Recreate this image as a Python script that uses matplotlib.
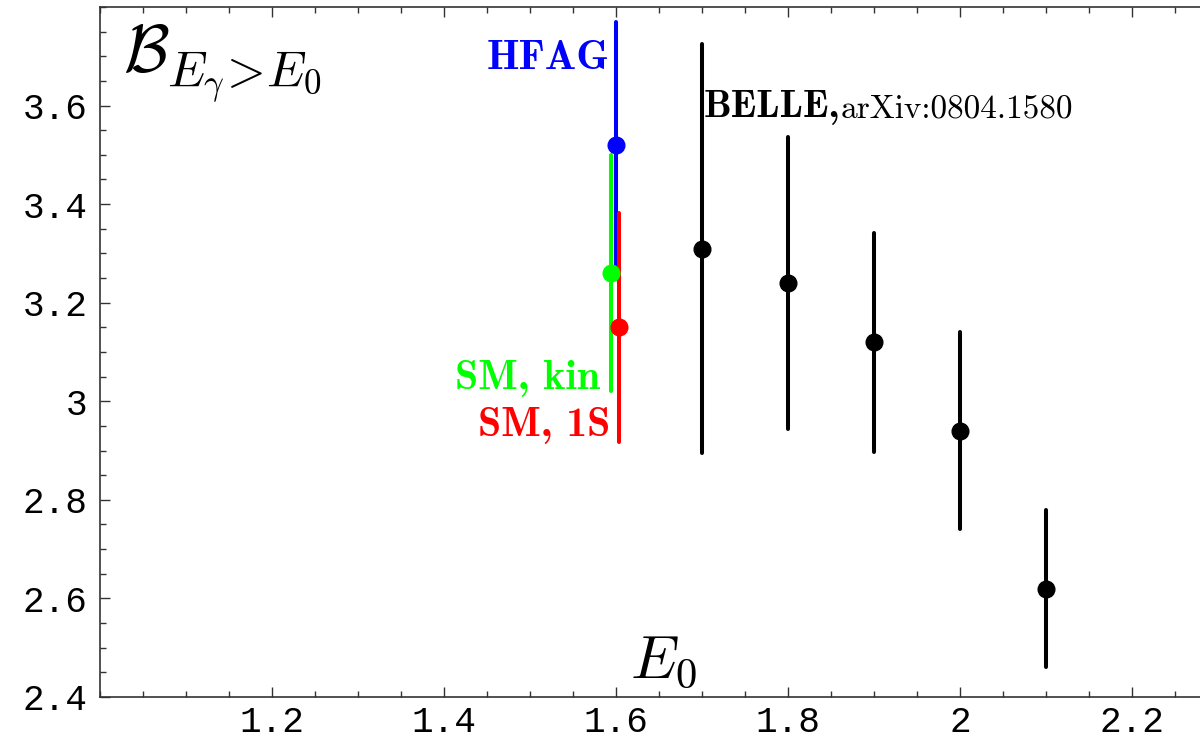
import matplotlib
matplotlib.use("Agg")
import matplotlib.pyplot as plt
from matplotlib.ticker import MultipleLocator, FixedLocator, FixedFormatter

# ------------------ DATA ------------------
belle_e0 = [1.7, 1.8, 1.9, 2.0, 2.1]
belle_br = [3.31, 3.24, 3.12, 2.94, 2.62]
belle_err = [0.415, 0.296, 0.222, 0.20, 0.159]

hfag_e0 = [1.6]
hfag_br = [3.52]
hfag_err = [0.25]

kin_e0 = [1.594]
kin_br = [3.26]
kin_err = [0.24]

s1_e0 = [1.604]
s1_br = [3.15]
s1_err = [0.232]

xticks = [1.2, 1.4, 1.6, 1.8, 2.0, 2.2]
xtick_labels = ["1.2", "1.4", "1.6", "1.8", "2", "2.2"]
yticks = [2.4, 2.6, 2.8, 3.0, 3.2, 3.4, 3.6]
ytick_labels = ["2.4", "2.6", "2.8", "3", "3.2", "3.4", "3.6"]

plt.rcParams["mathtext.fontset"] = "cm"

fig = plt.figure(figsize=(12, 7.4), dpi=100)
ax = fig.add_axes([100 / 1200, 43 / 740, 1100 / 1200, 690 / 740])

# -------- ERROR BARS --------
lw = 2.9
ms = 12
for xs, ys, es, col in [(hfag_e0, hfag_br, hfag_err, "#0000ff"),
                        (kin_e0, kin_br, kin_err, "#00ff00"),
                        (s1_e0, s1_br, s1_err, "#ff0000"),
                        (belle_e0, belle_br, belle_err, "black")]:
    eb = ax.errorbar(xs, ys, yerr=es, fmt="o", color=col, ms=ms,
                     elinewidth=lw, capsize=0, zorder=3)
    for lc in eb[2]:
        lc.set_capstyle("round")

# -------- AXES STYLE --------
ax.set_xlim(1.0, 2.279)
ax.set_ylim(2.4, 3.8)
ax.spines["right"].set_visible(False)
for s in ["top", "left", "bottom"]:
    ax.spines[s].set_linewidth(1.2)
    ax.spines[s].set_color("#333333")

ax.xaxis.set_major_locator(FixedLocator(xticks))
ax.xaxis.set_major_formatter(FixedFormatter(xtick_labels))
ax.yaxis.set_major_locator(FixedLocator(yticks))
ax.yaxis.set_major_formatter(FixedFormatter(ytick_labels))
ax.xaxis.set_minor_locator(MultipleLocator(0.05))
ax.yaxis.set_minor_locator(MultipleLocator(0.05))
ax.tick_params(which="both", direction="in", top=True, right=False,
               color="#333333", width=1.0)
ax.tick_params(which="major", length=7, labelsize=26)
ax.tick_params(axis="x", which="major", pad=6)
ax.tick_params(axis="y", which="major", pad=9)
ax.tick_params(which="minor", length=4)
for lab in ax.get_xticklabels() + ax.get_yticklabels():
    lab.set_family("Liberation Mono")

# -------- LABELS --------
ax.text(1.593, 3.695, "HFAG", family="cmb10", fontsize=30, color="#0000ff",
        ha="right", va="center")
ax.text(1.581, 3.047, "SM, kin", family="cmb10", fontsize=30, color="#00ff00",
        ha="right", va="center")
ax.text(1.593, 2.951, "SM, 1S", family="cmb10", fontsize=30, color="#ff0000",
        ha="right", va="center")

belle_y = 3.576
t = ax.text(1.702, belle_y, "BELLE,", family="cmb10", fontsize=28,
            color="black", ha="left", va="baseline")
fig.canvas.draw()
bb = t.get_window_extent()
x_end = ax.transData.inverted().transform((bb.x1, 0))[0]
ax.text(x_end, belle_y, "arXiv:0804.1580", family="cmr10", fontsize=24,
        color="black", ha="left", va="baseline")

# axis titles
fig.text(123 / 1200, 1 - 72 / 740, r"$\mathcal{B}$", fontsize=48,
         ha="left", va="baseline")
fig.text(167 / 1200, 1 - 86 / 740, r"$E_{\gamma}\!>\!E_{0}$", fontsize=36,
         ha="left", va="baseline")
fig.text(630 / 1200, 1 - 678 / 740, r"$E_{0}$", fontsize=44,
         ha="left", va="baseline")

fig.savefig("out.png", dpi=100)
